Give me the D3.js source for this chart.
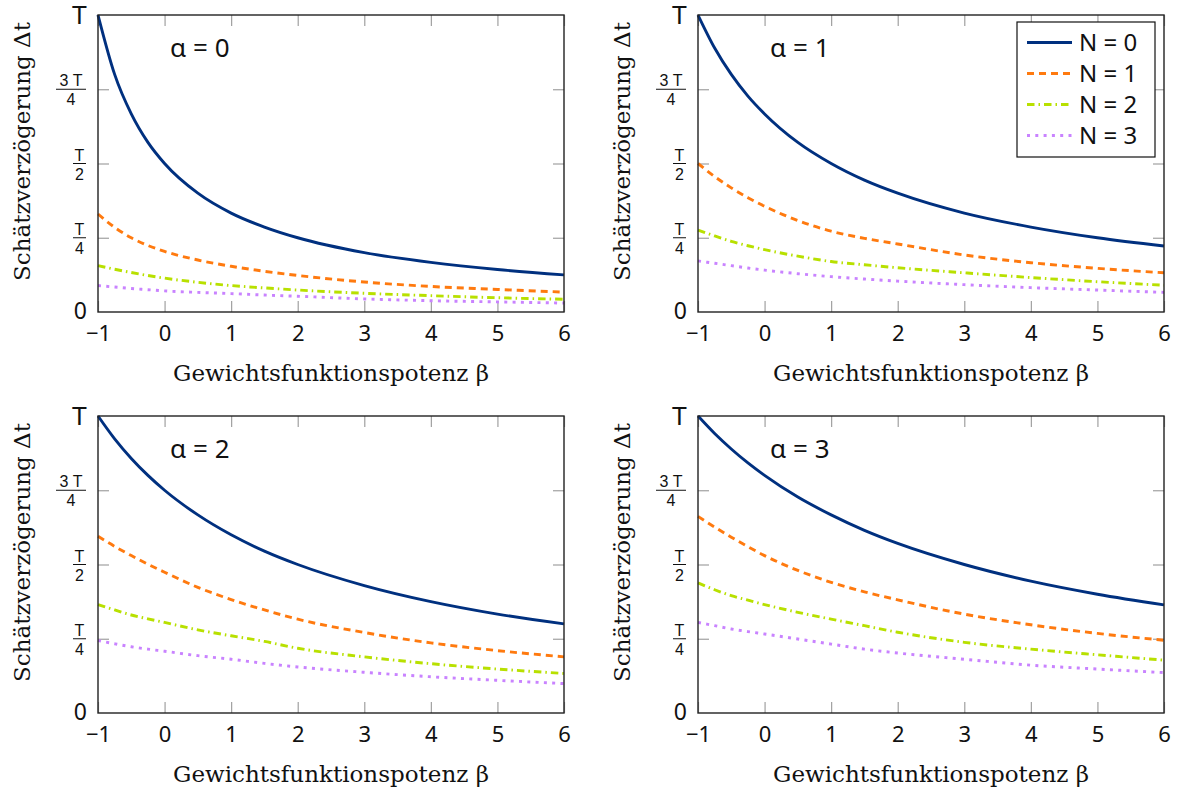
<!DOCTYPE html>
<html>
<head>
<meta charset="utf-8">
<script src="https://cdn.jsdelivr.net/npm/d3@7"></script>
<style>
  body { margin: 0; background: #fff; }
  text { fill: #111; }
</style>
</head>
<body>
<div id="container"></div>
<script>
const WIDTH = 1177, HEIGHT = 790;

// beta sample points (x axis)
const betas = [-1, -0.75, -0.5, -0.25, 0, 0.5, 1, 1.5, 2, 3, 4, 5, 6];
const xTicks = [-1, 0, 1, 2, 3, 4, 5, 6];
const alphas = [0, 1, 2, 3];
const orders = ["N = 0", "N = 1", "N = 2", "N = 3"];

// Δt / T
const a0n0 = [1.000, 0.800, 0.667, 0.571, 0.500, 0.400, 0.333, 0.286, 0.250, 0.200, 0.167, 0.143, 0.125];
const a0n1 = [0.330, 0.285, 0.250, 0.224, 0.204, 0.175, 0.154, 0.137, 0.123, 0.101, 0.086, 0.076, 0.067];
const a0n2 = [0.156, 0.144, 0.133, 0.123, 0.114, 0.100, 0.089, 0.081, 0.074, 0.063, 0.055, 0.048, 0.043];
const a0n3 = [0.089, 0.084, 0.079, 0.075, 0.071, 0.066, 0.062, 0.057, 0.053, 0.044, 0.038, 0.034, 0.030];

const a1n0 = [1.000, 0.889, 0.800, 0.727, 0.667, 0.571, 0.500, 0.444, 0.400, 0.333, 0.286, 0.250, 0.222];
const a1n1 = [0.500, 0.456, 0.418, 0.385, 0.356, 0.308, 0.272, 0.248, 0.229, 0.192, 0.166, 0.147, 0.132];
const a1n2 = [0.276, 0.256, 0.238, 0.223, 0.210, 0.188, 0.170, 0.159, 0.149, 0.132, 0.116, 0.102, 0.090];
const a1n3 = [0.172, 0.164, 0.156, 0.148, 0.141, 0.129, 0.119, 0.111, 0.104, 0.092, 0.082, 0.074, 0.066];

const a2n0 = [1.000, 0.923, 0.857, 0.800, 0.750, 0.667, 0.600, 0.545, 0.500, 0.429, 0.375, 0.333, 0.300];
const a2n1 = [0.595, 0.561, 0.530, 0.501, 0.474, 0.423, 0.382, 0.347, 0.316, 0.271, 0.236, 0.210, 0.189];
const a2n2 = [0.365, 0.347, 0.330, 0.317, 0.305, 0.280, 0.260, 0.241, 0.218, 0.189, 0.166, 0.148, 0.133];
const a2n3 = [0.244, 0.233, 0.223, 0.215, 0.208, 0.193, 0.181, 0.167, 0.155, 0.137, 0.122, 0.110, 0.099];

const a3n0 = [1.000, 0.941, 0.889, 0.842, 0.800, 0.727, 0.667, 0.615, 0.571, 0.500, 0.444, 0.400, 0.364];
const a3n1 = [0.662, 0.626, 0.592, 0.560, 0.530, 0.480, 0.440, 0.408, 0.381, 0.333, 0.297, 0.268, 0.245];
const a3n2 = [0.438, 0.415, 0.395, 0.380, 0.365, 0.339, 0.316, 0.294, 0.272, 0.238, 0.215, 0.196, 0.178];
const a3n3 = [0.305, 0.294, 0.283, 0.274, 0.266, 0.249, 0.232, 0.215, 0.202, 0.181, 0.161, 0.148, 0.136];

const panelData = [
  [a0n0, a0n1, a0n2, a0n3],
  [a1n0, a1n1, a1n2, a1n3],
  [a2n0, a2n1, a2n2, a2n3],
  [a3n0, a3n1, a3n2, a3n3]
];

const colors = ["#00307f", "#ff7a0f", "#b8e000", "#c983ff"];
const dashes = [null, "7,5", "7.5,4,1.5,4", "3,5.3"];

const lefts = [98, 698], tops = [15, 416];
const PW = 466, PH = 297;

const svg = d3.select("#container").append("svg")
  .attr("width", WIDTH).attr("height", HEIGHT);

const sans = "'Noto Sans', sans-serif";
const lsans = "'Liberation Sans', sans-serif";
const serif = "'DejaVu Serif', serif";

alphas.forEach((alpha, i) => {
  const ox = lefts[i % 2], oy = tops[Math.floor(i / 2)];
  const g = svg.append("g").attr("transform", `translate(${ox},${oy})`);

  const x = d3.scaleLinear().domain([-1, 6]).range([0, PW]);
  const y = d3.scaleLinear().domain([0, 1]).range([PH, 0]);

  // ticks on all four sides, pointing inward
  const tickStyle = sel => {
    sel.select(".domain").remove();
    sel.selectAll(".tick line").attr("stroke", "#a0a0a0").attr("stroke-width", 1.2);
  };
  g.append("g").attr("transform", `translate(0,${PH})`)
    .call(d3.axisBottom(x).tickValues(xTicks).tickSize(-11).tickPadding(13).tickFormat(d3.format("d")))
    .call(tickStyle)
    .call(s => s.selectAll("text").attr("font-family", sans).attr("font-size", 22).style("fill", "#111"));
  g.append("g")
    .call(d3.axisTop(x).tickValues(xTicks).tickSize(-11).tickFormat(""))
    .call(tickStyle);
  g.append("g")
    .call(d3.axisLeft(y).tickValues([0.25, 0.5, 0.75]).tickSize(-11).tickFormat(""))
    .call(tickStyle);
  g.append("g").attr("transform", `translate(${PW},0)`)
    .call(d3.axisRight(y).tickValues([0.25, 0.5, 0.75]).tickSize(-11).tickFormat(""))
    .call(tickStyle);

  // curves
  const line = d3.line()
    .x((d, k) => x(betas[k]))
    .y(d => y(d))
    .curve(d3.curveMonotoneX);

  panelData[i].forEach((vals, n) => {
    g.append("path")
      .attr("d", line(vals))
      .attr("fill", "none")
      .attr("stroke", colors[n])
      .attr("stroke-width", 2.9)
      .attr("stroke-dasharray", dashes[n]);
  });

  // frame
  g.append("rect")
    .attr("width", PW).attr("height", PH)
    .attr("fill", "none").attr("stroke", "#222").attr("stroke-width", 1.4);

  // y tick labels
  g.append("text").attr("x", -11).attr("y", y(1) + 9)
    .attr("text-anchor", "end").attr("font-family", lsans).attr("font-size", 25).text("T");
  g.append("text").attr("x", -11).attr("y", y(0) + 7)
    .attr("text-anchor", "end").attr("font-family", sans).attr("font-size", 23).text("0");
  const fracs = [[0.75, "3 T", "4", 30], [0.5, "T", "2", 13], [0.25, "T", "4", 13]];
  fracs.forEach(([v, num, den, w]) => {
    const cx = -12 - w / 2;
    g.append("text").attr("x", cx).attr("y", y(v) - 3)
      .attr("text-anchor", "middle").attr("font-family", lsans).attr("font-size", 16).text(num);
    g.append("line").attr("x1", cx - w / 2).attr("x2", cx + w / 2)
      .attr("y1", y(v)).attr("y2", y(v)).attr("stroke", "#111").attr("stroke-width", 1);
    g.append("text").attr("x", cx).attr("y", y(v) + 16)
      .attr("text-anchor", "middle").attr("font-family", lsans).attr("font-size", 16).text(den);
  });

  // axis titles
  g.append("text")
    .attr("transform", `translate(${30 - ox + (i % 2) * 600},${PH / 2 - 12}) rotate(-90)`)
    .attr("text-anchor", "middle").attr("font-family", serif).attr("font-size", 23)
    .text("Schätzverzögerung Δt");
  g.append("text")
    .attr("x", PW / 2).attr("y", PH + 69)
    .attr("text-anchor", "middle").attr("font-family", serif).attr("font-size", 23)
    .text("Gewichtsfunktionspotenz β");

  // alpha label
  g.append("text")
    .attr("x", x(0.53)).attr("y", y(0.86))
    .attr("text-anchor", "middle").attr("font-family", sans).attr("font-size", 26)
    .text(`α = ${alpha}`);

  // legend in the α = 1 panel
  if (i === 1) {
    const lg = g.append("g").attr("transform", `translate(${1017 - ox},${22 - oy})`);
    lg.append("rect").attr("width", 138).attr("height", 135)
      .attr("fill", "#fff").attr("stroke", "#111").attr("stroke-width", 1.2);
    orders.forEach((name, n) => {
      const ry = 20.5 + n * 31;
      lg.append("line").attr("x1", 10).attr("x2", 55).attr("y1", ry).attr("y2", ry)
        .attr("stroke", colors[n]).attr("stroke-width", 2.9).attr("stroke-dasharray", dashes[n]);
      lg.append("text").attr("x", 62).attr("y", ry + 8.5)
        .attr("font-family", sans).attr("font-size", 24).text(name);
    });
  }
});
</script>
</body>
</html>
